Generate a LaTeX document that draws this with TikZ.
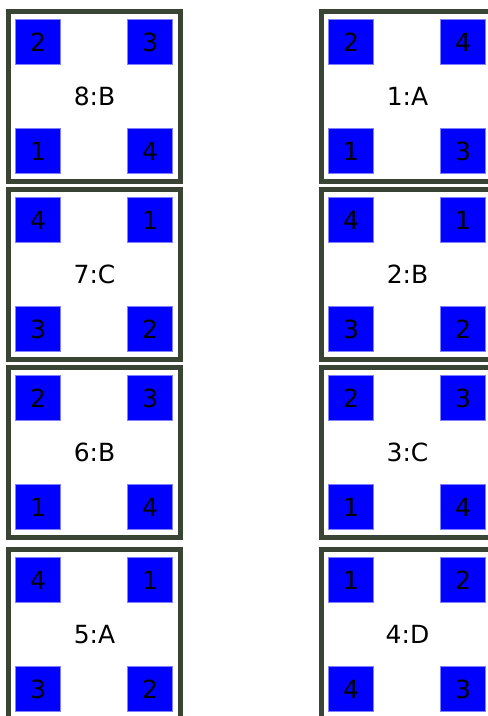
\documentclass[tikz,border=0pt]{standalone}
\usepackage{fontspec}
\setmainfont{DejaVu Sans}
\definecolor{framec}{RGB}{58,68,52}
\definecolor{sqfill}{RGB}{0,0,255}
\definecolor{sqedge}{RGB}{128,128,255}
\tikzset{
  tileframe/.style={draw=framec, line width=5pt, fill=white, minimum width=172pt, minimum height=170pt, inner sep=0pt, outer sep=0pt},
  cornersq/.style={draw=sqedge, line width=1pt, fill=sqfill, minimum size=45pt, inner sep=0pt, font=\fontsize{25}{25}\selectfont},
  tilelabel/.style={font=\fontsize{25}{25}\selectfont, inner sep=0pt},
}
\newcommand\tilebox[8]{%
  \node[tileframe] (#1) at (#2+88.5, #3+87.5) {};
  \node[tilelabel] (#1-lab) at (#1.center) {#4};
  \node[cornersq] (#1-tl) at (#2+32, #3+33) {#5};
  \node[cornersq] (#1-tr) at (#2+144, #3+33) {#6};
  \node[cornersq] (#1-bl) at (#2+32, #3+142) {#7};
  \node[cornersq] (#1-br) at (#2+144, #3+142) {#8};
}
\begin{document}
\begin{tikzpicture}[x=1pt, y=-1pt]
  \useasboundingbox (0,0) rectangle (488,716);
  \fill[white] (0,0) rectangle (488,716);
  \clip (0,0) rectangle (488,716);
  % left column
  \tilebox{t8}{6}{9}{8:B}{2}{3}{1}{4}
  \tilebox{t7}{6}{187}{7:C}{4}{1}{3}{2}
  \tilebox{t6}{6}{365}{6:B}{2}{3}{1}{4}
  \tilebox{t5}{6}{547}{5:A}{4}{1}{3}{2}
  % right column
  \tilebox{t1}{319}{9}{1:A}{2}{4}{1}{3}
  \tilebox{t2}{319}{187}{2:B}{4}{1}{3}{2}
  \tilebox{t3}{319}{365}{3:C}{2}{3}{1}{4}
  \tilebox{t4}{319}{547}{4:D}{1}{2}{4}{3}
\end{tikzpicture}
\end{document}
